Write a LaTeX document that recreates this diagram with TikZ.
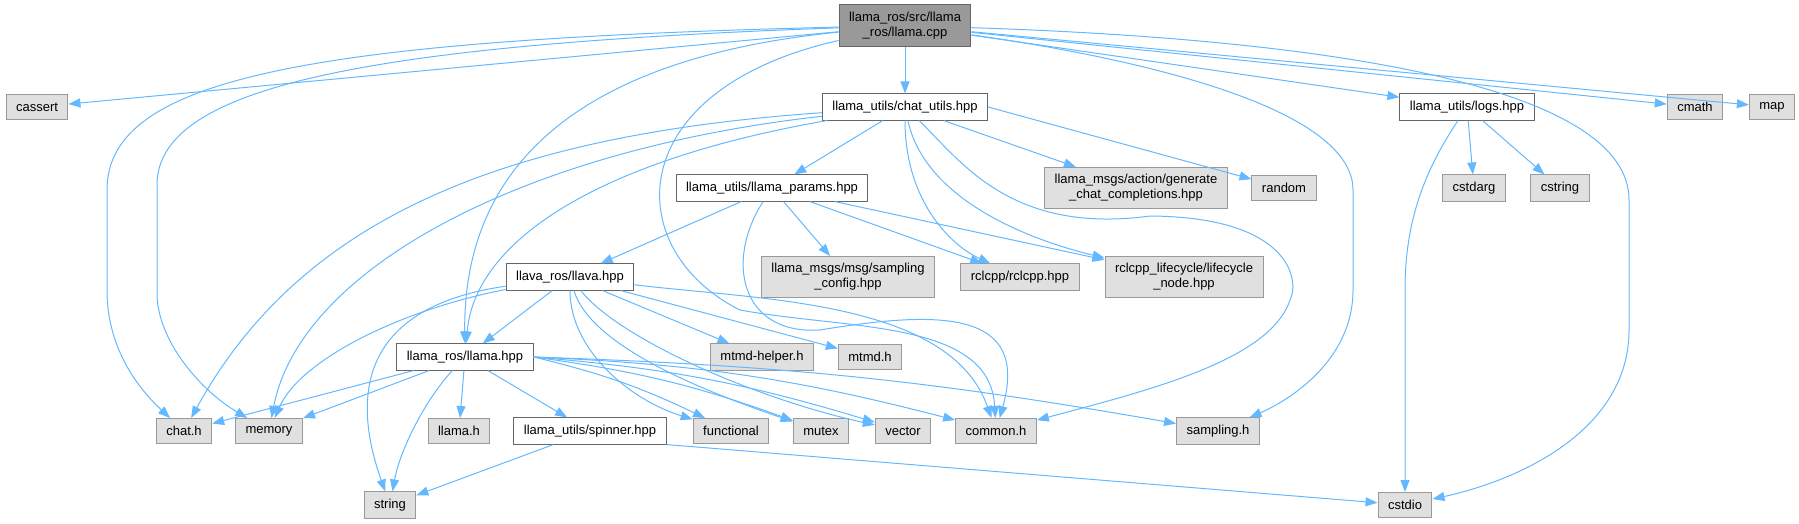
\documentclass[tikz,border=0pt]{standalone}
\usepackage{fontspec}
\setmainfont{Liberation Sans}
\usetikzlibrary{arrows.meta, positioning}
\definecolor{edgeblue}{HTML}{63B8FF}
\definecolor{hfill}{HTML}{E0E0E0}
\definecolor{hline}{HTML}{999999}
\definecolor{bline}{HTML}{666666}

\begin{document}
\begin{tikzpicture}[x=1pt, y=1pt, node distance=80pt]
		\tikzstyle{box} = [rectangle, line width=1pt, inner xsep=10pt, inner ysep=7pt, minimum height=25pt, align=center, font=\fontsize{13}{15}\selectfont]
		\tikzstyle{block} = [box, draw=bline, fill=white]
		\tikzstyle{hfile} = [box, draw=hline, fill=hfill]
		\tikzstyle{mainfile} = [box, draw=bline, fill=hline]
		\tikzstyle{line} = [draw=edgeblue, line width=1pt, -{Triangle[length=12pt, width=9pt]}]

		\useasboundingbox (0,0) rectangle (1799,-523);

		\node [mainfile] (llamacpp) at (905,-25.5) {llama\_ros/src/llama\\\_ros/llama.cpp};

		\node [block, node distance=81.5pt, below of=llamacpp] (chatutils) {llama\_utils/chat\_utils.hpp};
		\node [hfile, node distance=868pt, left of=chatutils] (cassert) {cassert};
		\node [block, node distance=562pt, right of=chatutils] (logs) {llama\_utils/logs.hpp};
		\node [hfile, node distance=228pt, right of=logs] (cmath) {cmath};
		\node [hfile, node distance=77pt, right of=cmath] (map) {map};

		\node [block, node distance=81pt, below of=chatutils, xshift=-133pt] (params) {llama\_utils/llama\_params.hpp};
		\node [hfile, node distance=364pt, right of=params] (gen) {llama\_msgs/action/generate\\\_chat\_completions.hpp};
		\node [hfile, node distance=148pt, right of=gen] (random) {random};
		\node [hfile, node distance=190pt, right of=random] (cstdarg) {cstdarg};
		\node [hfile, node distance=86pt, right of=cstdarg] (cstring) {cstring};

		\node [block, node distance=89pt, below of=params, xshift=-202pt] (llava) {llava\_ros/llava.hpp};
		\node [hfile, node distance=278pt, right of=llava] (samplingcfg) {llama\_msgs/msg/sampling\\\_config.hpp};
		\node [hfile, node distance=172pt, right of=samplingcfg] (rclcpp) {rclcpp/rclcpp.hpp};
		\node [hfile, node distance=164pt, right of=rclcpp] (lifecycle) {rclcpp\_lifecycle/lifecycle\\\_node.hpp};

		\node [block, node distance=80pt, below of=llava, xshift=-105pt] (llamahpp) {llama\_ros/llama.hpp};
		\node [hfile, node distance=297pt, right of=llamahpp] (mtmdhelper) {mtmd-helper.h};
		\node [hfile, node distance=108pt, right of=mtmdhelper] (mtmd) {mtmd.h};

		\node [hfile, node distance=74pt, below of=llamahpp, xshift=-6pt] (llamah) {llama.h};
		\node [hfile, node distance=190pt, left of=llamah] (memory) {memory};
		\node [hfile, node distance=85pt, left of=memory] (chath) {chat.h};
		\node [block, node distance=131pt, right of=llamah] (spinner) {llama\_utils/spinner.hpp};
		\node [hfile, node distance=141pt, right of=spinner] (functional) {functional};
		\node [hfile, node distance=90pt, right of=functional] (mutex) {mutex};
		\node [hfile, node distance=82pt, right of=mutex] (vector) {vector};
		\node [hfile, node distance=93pt, right of=vector] (common) {common.h};
		\node [hfile, node distance=222pt, right of=common] (samplingh) {sampling.h};

		\node [hfile, node distance=74pt, below of=llamah, xshift=-69pt] (string) {string};
		\node [hfile, node distance=1015pt, right of=string] (cstdio) {cstdio};

		\path [line] (llamacpp) -- (cassert);
		\path [line] (llamacpp) .. controls (300,-40) and (107,-80) .. (107,-190) -- (107,-290) .. controls (107,-350) and (140,-390) .. (chath);
		\path [line] (llamacpp) .. controls (350,-45) and (157,-90) .. (157,-185) -- (157,-293) .. controls (157,-340) and (200,-390) .. (memory);
		\path [line] (llamacpp) .. controls (560,-60) and (463,-180) .. (llamahpp);
		\path [line] (llamacpp) .. controls (620,-90) and (620,-250) .. (740,-310) .. controls (850,-330) and (990,-320) .. (common);
		\path [line] (llamacpp) -- (chatutils);
		\path [line] (llamacpp) .. controls (1150,-60) and (1353,-110) .. (1353,-190) -- (1353,-290) .. controls (1353,-360) and (1290,-400) .. (samplingh);
		\path [line] (llamacpp) -- (logs);
		\path [line] (llamacpp) .. controls (1350,-40) and (1629,-90) .. (1629,-200) -- (1629,-330) .. controls (1629,-430) and (1520,-480) .. (cstdio);
		\path [line] (llamacpp) -- (cmath);
		\path [line] (llamacpp) -- (map);

		\path [line] (chatutils) .. controls (500,-135) and (300,-220) .. (chath);
		\path [line] (chatutils) .. controls (520,-150) and (300,-270) .. (memory);
		\path [line] (chatutils) .. controls (600,-160) and (475,-240) .. (llamahpp);
		\path [line] (chatutils) -- (params);
		\path [line] (chatutils) .. controls (905,-200) and (950,-245) .. (rclcpp);
		\path [line] (chatutils) .. controls (925,-200) and (1030,-240) .. (lifecycle);
		\path [line] (chatutils) .. controls (960,-160) and (1010,-235) .. (1150,-216) .. controls (1290,-217) and (1300,-280) .. (1290,-300) .. controls (1270,-360) and (1150,-390) .. (common);
		\path [line] (chatutils) -- (gen);
		\path [line] (chatutils.east) -- (random);

		\path [line] (params) -- (llava);
		\path [line] (params) .. controls (725,-260) and (740,-335) .. (820,-330) .. controls (940,-310) and (1030,-310) .. (common);
		\path [line] (params) -- (samplingcfg);
		\path [line] (params) -- (rclcpp);
		\path [line] (params) -- (lifecycle);

		\path [line] (llava) .. controls (400,-310) and (300,-360) .. (memory);
		\path [line] (llava) .. controls (340,-310) and (360,-420) .. (string);
		\path [line] (llava) -- (llamahpp);
		\path [line] (llava) .. controls (570,-350) and (630,-400) .. (functional);
		\path [line] (llava) .. controls (590,-345) and (700,-390) .. (mutex);
		\path [line] (llava) .. controls (620,-340) and (760,-400) .. (vector);
		\path [line] (llava) .. controls (760,-300) and (950,-300) .. (common);
		\path [line] (llava) -- (mtmdhelper);
		\path [line] (llava) -- (mtmd);

		\path [line] (llamahpp) -- (chath);
		\path [line] (llamahpp) -- (memory);
		\path [line] (llamahpp) .. controls (425,-400) and (400,-450) .. (string);
		\path [line] (llamahpp) -- (llamah);
		\path [line] (llamahpp) -- (spinner);
		\path [line] (llamahpp.east) to[bend left=6] (functional);
		\path [line] (llamahpp.east) to[bend left=6] (mutex);
		\path [line] (llamahpp.east) to[bend left=6] (vector);
		\path [line] (llamahpp.east) to[bend left=6] (common);
		\path [line] (llamahpp.east) to[bend left=4] (samplingh);

		\path [line] (spinner) -- (string);
		\path [line] (spinner.south east) -- (cstdio);

		\path [line] (logs) .. controls (1425,-170) and (1405,-220) .. (1405,-290) -- (cstdio);
		\path [line] (logs) -- (cstdarg);
		\path [line] (logs) -- (cstring);
	\end{tikzpicture}
\end{document}
